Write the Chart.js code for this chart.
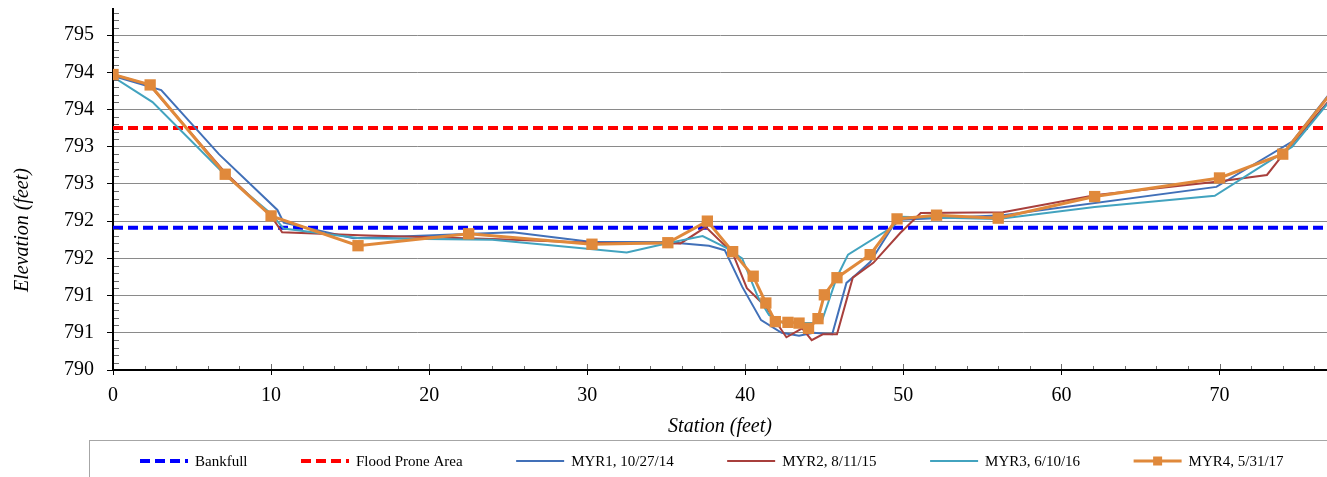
<!DOCTYPE html>
<html>
<head>
<meta charset="utf-8">
<script src="https://cdn.jsdelivr.net/npm/chart.js@4/dist/chart.umd.min.js"></script>
<style>
  body { margin: 0; background: #fff; overflow: hidden; }
  #wrap { width: 1327px; height: 477px; position: relative; }
</style>
</head>
<body>
<div id="wrap"><canvas id="xsChart"></canvas></div>
<script>
// cross section survey data (station / elevation in feet)
var bankfullElev = 791.91;
var floodProneElev = 793.25;
var refStation = [0, 77.5];

var myr1Station = [0, 3.05, 6.7, 10.4, 10.8, 15.2, 25.3, 30.3, 35.0, 37.7, 38.7, 39.8, 41.0, 42.3, 43.4, 44.3, 45.5, 46.4, 47.0, 47.9, 49.3, 49.8, 56.3, 69.8, 74.6, 77.5];
var myr1Elev    = [793.95, 793.76, 792.9, 792.15, 791.98, 791.77, 791.85, 791.72, 791.72, 791.67, 791.61, 791.12, 790.67, 790.5, 790.46, 790.5, 790.48, 791.17, 791.28, 791.45, 791.92, 792.02, 792.08, 792.46, 793.07, 793.86];

var myr2Station = [0, 2.3, 7.1, 10.0, 10.7, 15.6, 24.0, 30.3, 35.9, 37.5, 39.2, 40.1, 41.3, 42.6, 43.6, 44.2, 44.9, 45.8, 46.8, 48.1, 49.8, 51.1, 56.3, 62.2, 69.8, 73.0, 74.0, 77.5];
var myr2Elev    = [793.97, 793.83, 792.65, 792.07, 791.85, 791.81, 791.76, 791.71, 791.7, 791.92, 791.57, 791.1, 790.85, 790.44, 790.56, 790.4, 790.48, 790.48, 791.24, 791.44, 791.84, 792.11, 792.12, 792.35, 792.53, 792.62, 792.89, 793.76];

var myr3Station = [0, 2.5, 7.1, 10.0, 10.8, 15.6, 24.0, 32.5, 35.0, 37.3, 38.8, 39.8, 40.8, 41.5, 42.4, 44.1, 44.8, 45.8, 46.5, 49.3, 49.8, 56.0, 62.1, 69.7, 74.6, 77.5];
var myr3Elev    = [793.94, 793.6, 792.62, 792.1, 791.9, 791.77, 791.75, 791.58, 791.7, 791.8, 791.64, 791.5, 790.98, 790.74, 790.63, 790.63, 790.63, 791.25, 791.55, 791.92, 792.06, 792.03, 792.19, 792.34, 793.0, 793.75];

var myr4Station = [0, 2.35, 7.1, 10.0, 15.5, 22.5, 30.3, 35.1, 37.6, 39.2, 40.5, 41.3, 41.9, 42.7, 43.4, 44.0, 44.6, 45.0, 45.8, 47.9, 49.6, 52.1, 56.0, 62.1, 70.0, 74.0, 77.5];
var myr4Elev    = [793.97, 793.83, 792.63, 792.07, 791.67, 791.83, 791.69, 791.71, 792.0, 791.59, 791.26, 790.9, 790.65, 790.64, 790.63, 790.56, 790.69, 791.01, 791.24, 791.55, 792.03, 792.08, 792.04, 792.33, 792.58, 792.9, 793.84];

var seriesLabels = ['Bankfull', 'Flood Prone Area', 'MYR1, 10/27/14', 'MYR2, 8/11/15', 'MYR3, 6/10/16', 'MYR4, 5/31/17'];

// axis settings
var yMin = 790, yMax = 794.85, yStep = 0.5, yMinorStep = 0.1;
var xMin = 0, xMax = 76.8, xStep = 10, xMinorStep = 2;

function pts(xs, ys) {
    return xs.map(function(x, i) { return { x: x, y: ys[i] }; });
}
function flat(xs, v) {
    return xs.map(function(x) { return { x: x, y: v }; });
}

var serif = '"Liberation Serif", "Times New Roman", serif';

// minor ticks, y title and the boxed legend
var extras = {
    id: 'extras',
    afterDraw: function(chart) {
        var ctx = chart.ctx;
        var xs = chart.scales.x, ys = chart.scales.y;
        var area = chart.chartArea;
        ctx.save();

        ctx.lineWidth = 1;
        ctx.strokeStyle = '#6e6e6e';
        ctx.beginPath();
        for (var i = 1; yMin + i * yMinorStep <= yMax; i++) {
            if (i % 5 === 0) continue;
            var py = Math.round(ys.getPixelForValue(yMin + i * yMinorStep)) + 0.5;
            ctx.moveTo(area.left + 1, py);
            ctx.lineTo(area.left + 6, py);
        }
        for (var j = 1; xMin + j * xMinorStep <= xMax; j++) {
            var px = Math.round(xs.getPixelForValue(xMin + j * xMinorStep)) + 0.5;
            var len = (j * xMinorStep) % xStep === 0 ? 6 : 4;
            ctx.moveTo(px, area.bottom - 1);
            ctx.lineTo(px, area.bottom - len);
        }
        ctx.stroke();

        // y axis title
        ctx.fillStyle = '#000';
        ctx.font = 'italic 20px ' + serif;
        ctx.textAlign = 'center';
        ctx.textBaseline = 'middle';
        ctx.translate(23, 230);
        ctx.rotate(-Math.PI / 2);
        ctx.fillText('Elevation (feet)', 0, 0);
        ctx.setTransform(1, 0, 0, 1, 0, 0);
        ctx.restore();

        // legend
        ctx.save();
        ctx.strokeStyle = '#a6a6a6';
        ctx.lineWidth = 1;
        ctx.strokeRect(89.5, 440.5, chart.width + 20, 80);
        ctx.font = '15px ' + serif;
        ctx.textBaseline = 'middle';
        ctx.textAlign = 'left';
        var lx = 140, ly = 461;
        chart.data.datasets.forEach(function(ds) {
            ctx.strokeStyle = ds.borderColor;
            ctx.lineWidth = ds.borderWidth;
            ctx.setLineDash(ds.borderDash || []);
            ctx.beginPath();
            ctx.moveTo(lx, ly);
            ctx.lineTo(lx + 48, ly);
            ctx.stroke();
            ctx.setLineDash([]);
            if (ds.pointRadius > 0) {
                ctx.fillStyle = ds.pointBackgroundColor;
                ctx.fillRect(lx + 24 - 4.5, ly - 4.5, 9, 9);
            }
            ctx.fillStyle = '#000';
            ctx.fillText(ds.label, lx + 55, ly + 1);
            lx += 55 + ctx.measureText(ds.label).width + 53.5;
        });
        ctx.restore();
    }
};

var ctx = document.getElementById('xsChart').getContext('2d');
var xsChart = new Chart(ctx, {
    type: 'line',
    data: {
        datasets: [{
            label: seriesLabels[0],
            data: flat(refStation, bankfullElev),
            borderColor: '#0000ff',
            borderWidth: 4,
            borderDash: [10, 5],
            pointRadius: 0,
            order: 6
        }, {
            label: seriesLabels[1],
            data: flat(refStation, floodProneElev),
            borderColor: '#ff0000',
            borderWidth: 4,
            borderDash: [10, 5],
            pointRadius: 0,
            order: 5
        }, {
            label: seriesLabels[2],
            data: pts(myr1Station, myr1Elev),
            borderColor: '#4170b8',
            borderWidth: 2,
            pointRadius: 0,
            order: 4
        }, {
            label: seriesLabels[3],
            data: pts(myr2Station, myr2Elev),
            borderColor: '#a83f3c',
            borderWidth: 2,
            pointRadius: 0,
            order: 3
        }, {
            label: seriesLabels[4],
            data: pts(myr3Station, myr3Elev),
            borderColor: '#42a3bf',
            borderWidth: 2,
            pointRadius: 0,
            order: 2
        }, {
            label: seriesLabels[5],
            data: pts(myr4Station, myr4Elev),
            borderColor: '#e0893b',
            borderWidth: 3,
            pointStyle: 'rect',
            pointRadius: 8,
            pointBackgroundColor: '#e0893b',
            pointBorderColor: '#e0893b',
            pointBorderWidth: 0,
            order: 1
        }]
    },
    options: {
        responsive: true,
        maintainAspectRatio: false,
        animation: false,
        layout: {
            autoPadding: false,
            padding: { top: 9, right: 0, bottom: 37, left: 0 }
        },
        plugins: {
            legend: { display: false },
            tooltip: { enabled: false }
        },
        scales: {
            x: {
                type: 'linear',
                min: xMin,
                max: xMax,
                afterFit: function(scale) {
                    scale.height = 70;
                    scale.paddingLeft = 0;
                    scale.paddingRight = 0;
                },
                ticks: {
                    stepSize: xStep,
                    includeBounds: false,
                    padding: 9,
                    color: '#000',
                    font: { family: serif, size: 20 }
                },
                grid: {
                    drawOnChartArea: false,
                    tickLength: 5,
                    tickColor: '#000'
                },
                border: { color: '#000', width: 2 },
                title: {
                    display: true,
                    text: 'Station (feet)',
                    color: '#000',
                    font: { family: serif, size: 20, style: 'italic' },
                    padding: { top: 0, bottom: 1 }
                }
            },
            y: {
                min: yMin,
                max: yMax,
                afterFit: function(scale) {
                    scale.width = 113;
                    scale.paddingTop = 0;
                    scale.paddingBottom = 0;
                },
                ticks: {
                    stepSize: yStep,
                    includeBounds: false,
                    padding: 13,
                    color: '#000',
                    font: { family: serif, size: 20 },
                    callback: function(v) { return Math.round(v); }
                },
                grid: {
                    color: '#8a8a8a',
                    lineWidth: 1,
                    tickLength: 6,
                    tickColor: '#000'
                },
                border: { color: '#000', width: 2 }
            }
        }
    },
    plugins: [extras]
});
</script>
</body>
</html>
